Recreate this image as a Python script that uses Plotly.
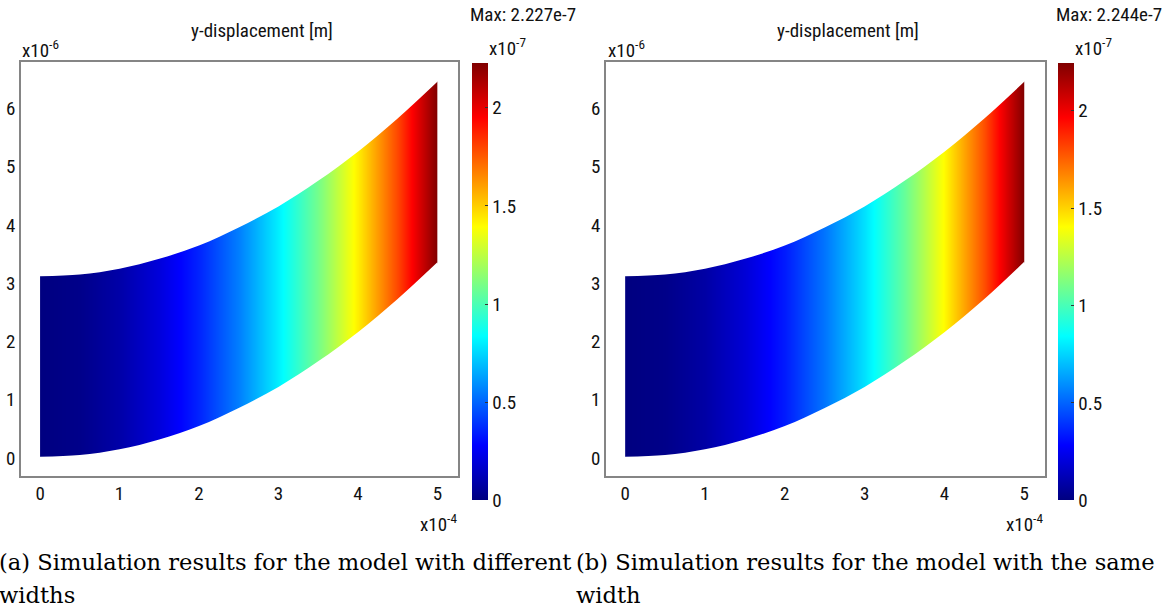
import plotly.graph_objects as go

# ---------------- data ----------------
# stations along the beam, x in units of 1e-4 m
x_st = [0.0, 0.5, 1.0, 1.5, 2.0, 2.5, 3.0, 3.5, 4.0, 4.5, 5.0]

# deformed upper / lower edges, y in units of 1e-6 m
top_a = [3.12, 3.15, 3.25, 3.42, 3.65, 3.96, 4.32, 4.76, 5.26, 5.83, 6.46]
bot_a = [0.02, 0.05, 0.15, 0.32, 0.55, 0.86, 1.22, 1.66, 2.16, 2.73, 3.36]
top_b = [3.12, 3.15, 3.25, 3.42, 3.65, 3.96, 4.32, 4.76, 5.26, 5.83, 6.46]
bot_b = [0.02, 0.05, 0.15, 0.32, 0.55, 0.86, 1.22, 1.66, 2.16, 2.73, 3.37]

# y-displacement along the beam, units of 1e-7 m
disp_a = [0.0, 0.022, 0.089, 0.20, 0.356, 0.557, 0.80, 1.09, 1.43, 1.80, 2.227]
disp_b = [0.0, 0.020, 0.082, 0.19, 0.340, 0.540, 0.78, 1.07, 1.41, 1.79, 2.244]
max_a = 2.227
max_b = 2.244

x_ticks = [0, 1, 2, 3, 4, 5]
y_ticks = [0, 1, 2, 3, 4, 5, 6]
cb_ticks = [0, 0.5, 1, 1.5, 2]
cb_ticktext = ["0", "0.5", "1", "1.5", "2"]

title_text = "y-displacement [m]"
caption_a = ["(a) Simulation results for the model with different", "widths"]
caption_b = ["(b) Simulation results for the model with the same", "width"]

# ---------------- styling ----------------
W, H = 1176, 611
SANS = "Liberation Sans Narrow, Arial Narrow, Roboto Condensed, Roboto, sans-serif"
SERIF = "DejaVu Serif, Liberation Serif, serif"
FRAME = "#858585"
TXT = "#111111"

jet = [
    [0.0, "rgb(0,0,128)"],
    [0.125, "rgb(0,0,255)"],
    [0.375, "rgb(0,255,255)"],
    [0.625, "rgb(255,255,0)"],
    [0.875, "rgb(255,0,0)"],
    [1.0, "rgb(128,0,0)"],
]

XR = [-0.24, 5.26]
YR = [-0.30, 6.80]


def px(x):
    return x / W


def py(y):
    return 1 - y / H


fig = go.Figure()

panels = [
    dict(top=top_a, bot=bot_a, disp=disp_a, vmax=max_a, ax="x", ay="y", dx=0.0,
         cap=caption_a, capx=-3),
    dict(top=top_b, bot=bot_b, disp=disp_b, vmax=max_b, ax="x2", ay="y2", dx=586.0,
         cap=caption_b, capx=574),
]

HI = YR[1] + 1
LO = YR[0] - 1
XL = XR[0] - 1
XH = XR[1] + 1

for p in panels:
    dx = p["dx"]
    # colour field (rows given as edges so the image stays inside the frame)
    y_lo = min(p["bot"]) - 0.1
    y_hi = max(p["top"]) + 0.1
    fig.add_trace(go.Heatmap(
        x=x_st, y=[y_lo, (y_lo + y_hi) / 2, y_hi], z=[p["disp"], p["disp"]],
        zmin=0, zmax=p["vmax"], zsmooth="best", colorscale=jet,
        xaxis=p["ax"], yaxis=p["ay"], hoverinfo="skip",
        colorbar=dict(
            x=px(471.7 + dx), xanchor="left", xpad=0,
            y=py(63.3), yanchor="top", ypad=0,
            len=(500.7 - 63.3) / H, lenmode="fraction",
            thickness=16, outlinewidth=0,
            tickvals=cb_ticks, ticktext=cb_ticktext,
            ticks="inside", ticklen=3, tickcolor="#333333",
            tickfont=dict(family=SANS, size=19, color=TXT),
        ),
    ))
    common = dict(mode="lines", hoverinfo="skip", showlegend=False,
                  xaxis=p["ax"], yaxis=p["ay"])
    # left / right white strips
    fig.add_trace(go.Scatter(x=[XL, x_st[0], x_st[0], XL], y=[LO, LO, HI, HI],
                             fill="toself", fillcolor="white",
                             line=dict(width=0, color="white"), **common))
    fig.add_trace(go.Scatter(x=[x_st[-1], XH, XH, x_st[-1]], y=[LO, LO, HI, HI],
                             fill="toself", fillcolor="white",
                             line=dict(width=0, color="white"), **common))
    # white region above the upper edge
    fig.add_trace(go.Scatter(x=x_st, y=p["top"], line=dict(width=0, shape="spline", color="white"),
                             **common))
    fig.add_trace(go.Scatter(x=[XL, XH], y=[HI, HI], fill="tonexty", fillcolor="white",
                             line=dict(width=0, color="white"), **common))
    # white region below the lower edge
    fig.add_trace(go.Scatter(x=x_st, y=p["bot"], line=dict(width=0, shape="spline", color="white"),
                             **common))
    fig.add_trace(go.Scatter(x=[XL, XH], y=[LO, LO], fill="tonexty", fillcolor="white",
                             line=dict(width=0, color="white"), **common))

    # texts
    fig.add_annotation(x=px(262 + dx), y=py(30), xref="paper", yref="paper",
                       text=title_text, showarrow=False, xanchor="center", yanchor="middle",
                       font=dict(family=SANS, size=19, color=TXT))
    fig.add_annotation(x=px(468 + dx), y=py(14), xref="paper", yref="paper",
                       text="Max: %.3fe-7" % p["vmax"], showarrow=False,
                       xanchor="left", yanchor="middle",
                       font=dict(family=SANS, size=19, color=TXT))
    fig.add_annotation(x=px(487 + dx), y=py(62), xref="paper", yref="paper",
                       text="x10<sup>-7</sup>", showarrow=False,
                       xanchor="left", yanchor="bottom",
                       font=dict(family=SANS, size=19, color=TXT))
    fig.add_annotation(x=px(20 + dx), y=py(64), xref="paper", yref="paper",
                       text="x10<sup>-6</sup>", showarrow=False,
                       xanchor="left", yanchor="bottom",
                       font=dict(family=SANS, size=19, color=TXT))
    fig.add_annotation(x=px(459 + dx), y=py(538), xref="paper", yref="paper",
                       text="x10<sup>-4</sup>", showarrow=False,
                       xanchor="right", yanchor="bottom",
                       font=dict(family=SANS, size=19, color=TXT))
    # captions
    fig.add_annotation(x=px(p["capx"]), y=py(562), xref="paper", yref="paper",
                       text=p["cap"][0], showarrow=False, xanchor="left", yanchor="middle",
                       font=dict(family=SERIF, size=22.6, color="#000000"))
    fig.add_annotation(x=px(p["capx"]), y=py(595), xref="paper", yref="paper",
                       text=p["cap"][1], showarrow=False, xanchor="left", yanchor="middle",
                       font=dict(family=SERIF, size=22.6, color="#000000"))

axis_common = dict(showgrid=False, zeroline=False, showline=True, mirror=True,
                   linecolor=FRAME, linewidth=1.6, ticks="",
                   tickfont=dict(family=SANS, size=19, color=TXT), fixedrange=True)

fig.update_layout(
    width=W, height=H, margin=dict(l=0, r=0, t=0, b=0),
    paper_bgcolor="white", plot_bgcolor="white", showlegend=False,
    xaxis=dict(domain=[px(21), px(458)], range=XR, tickvals=x_ticks, anchor="y", **axis_common),
    yaxis=dict(domain=[py(475.5), py(62)], range=YR, tickvals=y_ticks, anchor="x", **axis_common),
    xaxis2=dict(domain=[px(606), px(1045)], range=XR, tickvals=x_ticks, anchor="y2", **axis_common),
    yaxis2=dict(domain=[py(475.5), py(62)], range=YR, tickvals=y_ticks, anchor="x2", **axis_common),
)

fig.write_html("out.html", config={"displayModeBar": False},
               post_script="document.body.style.margin='0px';")
